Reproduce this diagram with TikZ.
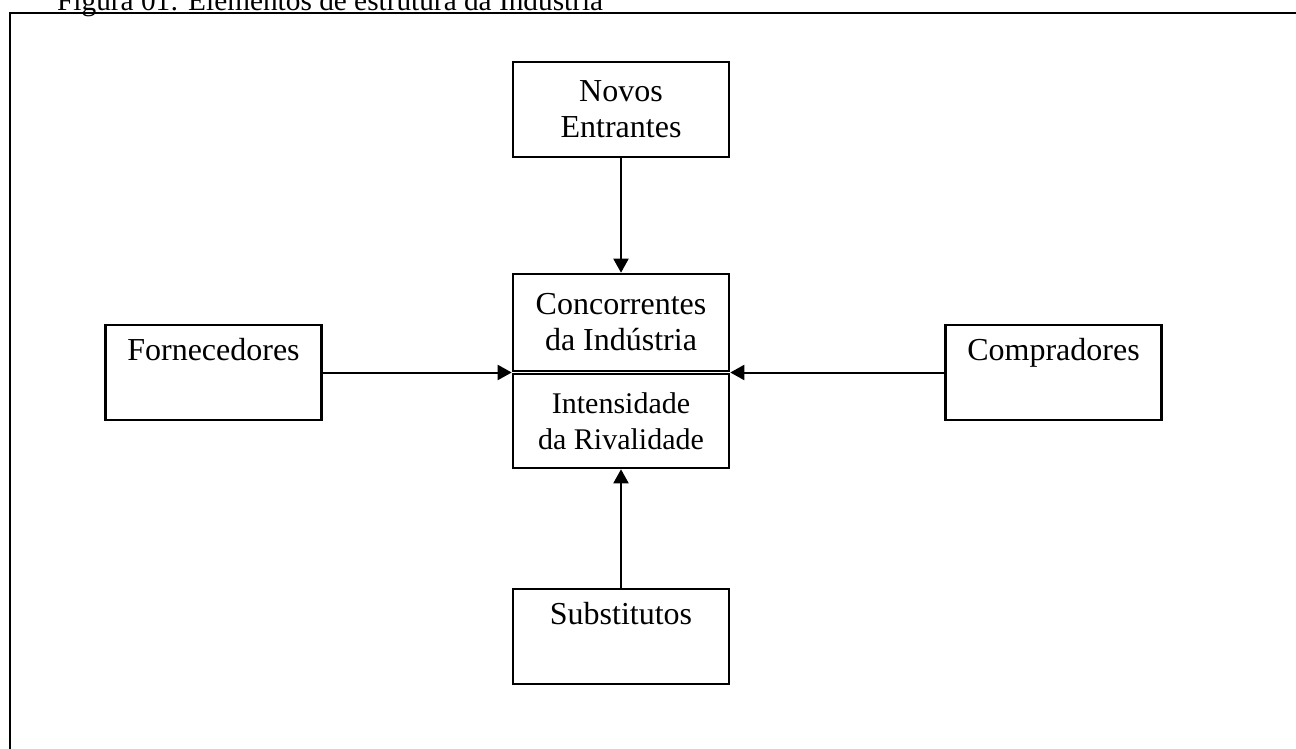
\documentclass[tikz,border=0pt]{standalone}
\usepackage{fontspec}
\setmainfont{Liberation Serif}
\usepackage{tikz}
\usetikzlibrary{arrows.meta, positioning, calc}
\tikzstyle{box}   = [draw=black, line width=2.6pt, inner sep=0pt, minimum width=216pt,
                     minimum height=95pt, align=center, font=\fontsize{32}{36}\selectfont]
\tikzstyle{arrow} = [line width=2pt, -{Triangle[length=14pt, width=15pt]}]

\begin{document}
\begin{tikzpicture}[x=1pt, y=-1pt]
  \useasboundingbox (0,0) rectangle (1296,749);
  \clip (0,0) rectangle (1296,749);

  % --- Frame and caption ---
  \draw[line width=2.8pt] (10,770) |- (1310,13);
  \node[anchor=base west, inner sep=0pt, font=\fontsize{29.3}{36}\selectfont] (titulo) at (57,11)
    {Figura 01: Elementos de estrutura da Indústria};

  % --- Central boxes ---
  \node[box, minimum height=97pt] (conc) at (621,322.5) {Concorrentes\\da Indústria};
  \node[box, minimum height=94pt, font=\fontsize{30}{36}\selectfont] (rival) at (621,421) {Intensidade\\da Rivalidade};

  % --- Outer forces ---
  \node[box] (novos)  at (621,109.5)  {Novos\\Entrantes};
  \node[box] (forn)   at (213.5,372.5) {Fornecedores\\\strut};
  \node[box] (comp)   at (1053.5,372.5) {Compradores\\\strut};
  \node[box] (subst)  at (621,636.5)  {Substitutos\\\strut};

  % Connections
  \draw[arrow] (novos.south) -- (conc.north);
  \draw[arrow] (subst.north) -- (rival.south);
  \draw[arrow] (forn.east) -- (forn.east -| conc.west);
  \draw[arrow] (comp.west) -- (comp.west -| conc.east);
\end{tikzpicture}
\end{document}
